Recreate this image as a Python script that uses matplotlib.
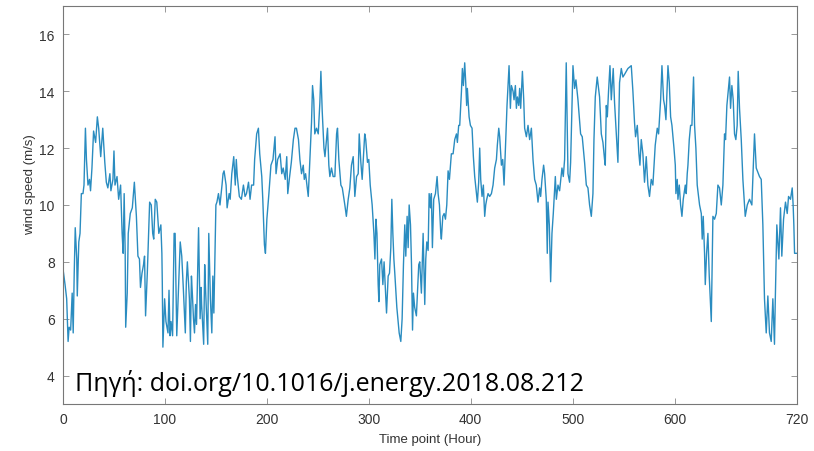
import matplotlib
matplotlib.use("Agg")
import matplotlib.pyplot as plt

hours = [0, 2, 3.6, 5, 6, 7.5, 9, 10, 11, 12, 13.5, 14, 15.5, 16.7, 18, 19.6, 20.6, 22, 23, 24.5,
         26, 27, 28.4, 30, 32, 33.7, 35, 37, 39, 41, 42.5, 44, 46, 47, 49, 50, 51, 53, 54.6, 56.5,
         58, 59, 60, 61, 61.5, 63, 64, 66, 68, 70, 72, 73.5, 75, 76, 77.5, 79, 80, 81, 82.7, 84,
         85, 86.6, 88, 89, 90.5, 92, 94, 96, 97, 97.4, 98, 99.7, 101, 103, 104, 105, 106, 107.5, 109, 110,
         111.6, 115, 116.5, 118, 120, 121, 122, 124, 125, 126, 127, 128, 129, 130, 131, 133, 134.5, 135.5, 136, 138,
         139, 140, 142, 143, 144.6, 146, 147, 148, 150, 151, 152.5, 154, 156, 157, 158, 160, 161, 163, 164, 165.6,
         167.5, 169, 170, 171, 173, 175, 177, 178.6, 180, 182, 183.5, 185, 187, 188, 190, 191.7, 193, 195, 196, 197.6,
         198.6, 200, 202, 204, 206, 208, 209, 210.6, 213, 214.6, 216, 218, 219.5, 220.5, 222, 224, 226, 227.6, 229, 231,
         232.4, 234, 235.7, 236.7, 238, 239.3, 240.6, 242.2, 243.8, 244.8, 246, 247, 248.7, 250.4, 252, 253, 254.3, 256, 257, 258.5,
         259.5, 260.8, 261.8, 263.4, 265, 266.7, 268.4, 269.3, 270.6, 272.6, 274, 276.5, 278, 279.8, 281.4, 283, 284.7, 286.3, 288, 289.6,
         290.6, 292.2, 293.5, 294.8, 296, 297, 298.7, 300, 301.4, 303.3, 305, 306, 307, 308, 309.2, 309.9, 310.8, 312.5, 313.8, 315,
         316.4, 317.4, 319, 320.3, 321.6, 322.6, 323.6, 324.6, 325.5, 327.5, 329.8, 331.4, 332.7, 334, 335.3, 336.3, 337.6, 338.6, 339.6, 340.9,
         341.9, 342.9, 343.8, 345, 346.7, 349, 350, 351.6, 353.3, 354.9, 355.9, 356.9, 358.2, 359.2, 360.5, 361.4, 362.4, 363.7, 365.4, 367,
         368, 369.3, 370.6, 371.2, 372.6, 373.9, 375.2, 376.5, 377.8, 379.1, 381, 382.7, 384.3, 386, 386.9, 388.2, 389.2, 390.9, 391.8, 392.8,
         394.1, 395.1, 396, 396.7, 398.4, 399.7, 401.3, 402.6, 403.9, 405.6, 406.5, 407.8, 408.8, 409.8, 411.1, 412.4, 413.7, 414.7, 415.7, 417,
         418.6, 420.3, 421.9, 423.5, 425.2, 426.1, 427.5, 428.4, 430.1, 431.4, 432.7, 434, 435.6, 437.6, 438.9, 439.9, 441.5, 442.5, 443.8, 444.8,
         445.8, 447.1, 448, 449, 450.7, 452, 452.9, 454.6, 456.2, 457.8, 459.5, 461.1, 462.7, 464.3, 466, 467.6, 468.6, 469.9, 471.5, 472.5,
         474.1, 475.1, 475.8, 477.1, 478.4, 479.7, 481, 483, 484, 485.6, 487.2, 489.5, 490.8, 492.1, 493.7, 495.4, 497, 498, 500.3, 501.9,
         503.2, 505.2, 507.8, 509.4, 511.7, 513.4, 515, 516.6, 518.3, 519.9, 520.9, 522.2, 524.1, 526.4, 528.1, 529.7, 531.3, 532, 533, 534,
         535.2, 536.6, 537.9, 539.8, 541.1, 544.4, 546, 547.7, 549.3, 551, 554.2, 557.5, 559.1, 560.7, 561.7, 563.4, 565, 566, 567.3, 568.9,
         570.5, 572.2, 573.8, 575.4, 577.1, 578.7, 581, 583, 584.3, 586.3, 587.6, 589.2, 590.2, 591.5, 593.5, 594.8, 596.1, 597.4, 599.4, 600.7,
         601.3, 602.6, 603.3, 604.6, 605.9, 607.2, 608.5, 610.5, 611.4, 612.4, 613.1, 614.4, 615.7, 617, 618.6, 619.6, 620.9, 622.2, 624.5, 626.2,
         627.1, 628.1, 629.4, 630.1, 631.4, 632.7, 634, 636, 637.6, 639.2, 640.9, 642.5, 644.1, 645.8, 647.4, 649, 650, 651.3, 653.9, 654.9,
         656.2, 657.5, 658.8, 660.1, 661.4, 662.4, 663.7, 665.4, 667, 668.6, 669.3, 671.3, 673.5, 675.8, 678.4, 680.1, 683.3, 685, 686.6, 688.2,
         689.9, 691.5, 693.1, 694.8, 696.4, 698, 698.7, 700.3, 702.3, 703.9, 705.2, 706.9, 708.8, 710.5, 711.8, 713.7, 715.4, 716.3, 717, 717.7,
         720]

wind_speed = [7.75, 7.2, 6.7, 5.2, 5.7, 5.6, 6.9, 5.5, 7.6, 9.2, 8.1, 6.8, 8.7, 9.0, 10.4, 10.4, 10.7, 12.7, 11.6, 10.7,
              10.9, 10.5, 11.3, 12.6, 12.2, 13.1, 12.7, 11.7, 12.7, 11.5, 10.8, 10.6, 11.1, 10.5, 10.9, 11.9, 10.7, 11.0, 10.2, 10.7,
              9.0, 8.3, 10.4, 8.3, 5.7, 6.9, 9.0, 9.7, 9.9, 10.8, 9.6, 8.2, 8.1, 7.1, 7.6, 7.9, 8.2, 6.1, 7.6, 9.0,
              10.1, 10.0, 9.0, 8.8, 10.2, 10.1, 9.0, 9.3, 8.3, 7.3, 5.0, 6.7, 5.9, 5.5, 7.0, 5.4, 5.9, 5.4, 9.0, 9.0,
              5.4, 8.7, 8.2, 7.1, 5.5, 7.3, 8.0, 6.7, 5.2, 7.5, 6.8, 6.0, 5.5, 6.5, 5.8, 9.2, 6.0, 7.1, 6.5, 5.1,
              7.9, 6.9, 5.1, 9.0, 6.7, 5.5, 7.5, 6.2, 10.0, 10.1, 10.4, 10.0, 10.7, 11.1, 11.2, 10.7, 9.9, 10.4, 10.2, 11.1,
              11.7, 10.7, 11.6, 11.0, 10.3, 10.2, 10.7, 10.3, 10.4, 10.8, 10.2, 10.7, 10.7, 11.6, 12.5, 12.7, 11.8, 11.0, 10.2, 8.6,
              8.3, 9.5, 10.4, 11.4, 11.6, 12.4, 11.1, 11.6, 11.8, 11.1, 11.3, 10.9, 11.7, 10.4, 10.9, 11.5, 12.3, 12.7, 12.7, 12.3,
              11.6, 11.1, 11.4, 10.9, 11.1, 10.7, 10.3, 11.6, 12.9, 14.2, 13.7, 12.5, 12.7, 12.5, 13.6, 14.7, 13.3, 12.0, 11.7, 12.3,
              12.7, 11.4, 11.0, 11.3, 11.0, 11.0, 12.5, 12.7, 11.6, 10.7, 10.6, 10.0, 9.6, 10.2, 10.6, 11.4, 11.7, 10.3, 11.0, 11.1,
              12.5, 11.5, 10.9, 11.7, 12.5, 12.3, 11.5, 11.6, 10.7, 10.0, 9.0, 8.1, 9.5, 9.0, 7.2, 6.6, 7.9, 8.1, 7.2, 8.0,
              6.9, 6.2, 7.5, 7.6, 8.5, 10.2, 9.0, 8.1, 7.6, 6.4, 5.5, 5.2, 6.0, 7.9, 9.3, 8.2, 9.6, 8.5, 10.0, 9.3,
              7.9, 5.6, 6.9, 6.4, 6.1, 7.9, 8.0, 6.9, 9.0, 6.5, 8.1, 8.7, 8.4, 10.4, 9.9, 10.4, 8.5, 10.2, 10.4, 11.0,
              10.4, 10.0, 9.0, 8.8, 9.6, 9.7, 9.5, 10.0, 11.2, 10.9, 11.8, 11.8, 12.3, 12.5, 12.2, 12.8, 12.8, 14.0, 14.8, 14.2,
              15.0, 14.3, 13.5, 14.1, 13.1, 12.8, 12.7, 11.7, 11.0, 10.4, 10.1, 10.8, 12.0, 10.9, 10.3, 10.7, 9.6, 10.0, 10.2, 10.4,
              10.3, 10.4, 10.7, 11.3, 11.6, 12.1, 12.7, 12.4, 11.4, 11.6, 10.7, 12.0, 13.5, 14.9, 13.4, 14.2, 14.0, 13.7, 14.2, 13.4,
              13.8, 13.5, 14.1, 13.4, 14.7, 13.7, 12.7, 12.4, 12.8, 12.3, 12.7, 11.6, 10.9, 10.7, 10.1, 10.6, 10.3, 10.9, 11.4, 11.1,
              10.2, 8.3, 10.1, 9.3, 7.3, 9.0, 9.7, 11.0, 10.2, 10.7, 10.5, 11.3, 11.0, 11.6, 15.0, 11.1, 10.8, 11.5, 14.9, 14.1,
              14.4, 13.7, 12.5, 12.4, 11.5, 10.7, 10.6, 10.0, 9.6, 10.4, 12.3, 13.8, 14.5, 13.8, 12.5, 12.2, 11.6, 11.4, 13.5, 13.1,
              14.0, 14.9, 13.7, 14.8, 13.6, 11.5, 14.3, 14.8, 14.5, 14.6, 14.8, 14.9, 14.0, 12.9, 12.4, 12.8, 11.8, 11.4, 12.3, 11.8,
              10.8, 11.7, 10.7, 10.3, 10.9, 10.7, 12.1, 12.7, 12.5, 13.7, 14.9, 13.7, 13.5, 13.0, 14.9, 14.3, 13.1, 12.8, 12.0, 11.4,
              10.4, 10.9, 10.2, 10.7, 10.0, 9.6, 10.2, 10.7, 10.4, 11.1, 11.4, 12.3, 12.8, 12.8, 14.5, 12.8, 12.0, 10.7, 10.0, 9.7,
              8.8, 9.6, 8.3, 7.2, 8.3, 9.0, 7.5, 5.9, 9.6, 9.5, 9.7, 10.7, 10.6, 10.0, 10.7, 12.5, 12.3, 13.5, 14.5, 13.4,
              14.2, 13.7, 12.5, 12.3, 12.8, 14.7, 13.4, 12.3, 10.9, 10.0, 9.6, 10.0, 10.2, 10.0, 12.5, 11.3, 11.0, 10.9, 9.3, 6.7,
              5.5, 6.8, 5.5, 5.2, 6.7, 5.1, 6.5, 9.3, 8.1, 9.9, 8.2, 9.5, 10.1, 9.7, 10.3, 10.2, 10.6, 10.0, 9.3, 8.3,
              8.3]

y_ticks = [4, 6, 8, 10, 12, 14, 16]
x_ticks = [0, 100, 200, 300, 400, 500, 600, 720]
x_label = "Time point (Hour)"
y_label = "wind speed (m/s)"
source_text = "Πηγή: doi.org/10.1016/j.energy.2018.08.212"

plt.rcParams['font.family'] = ['Liberation Sans Narrow', 'Liberation Sans', 'DejaVu Sans']

fig = plt.figure(figsize=(8.14, 4.52), dpi=100)
ax = fig.add_axes([0.0774, 0.104, 0.9016, 0.8806])
ax.plot(hours, wind_speed, color='#2a8cc0', linewidth=1.0)
ax.set_xlim(0, 720)
ax.set_ylim(3, 17)
ax.set_xticks(x_ticks)
ax.set_yticks(y_ticks)
ax.tick_params(direction='in', top=True, right=True, length=4, width=0.6,
               colors='#888888', labelcolor='#333333', labelsize=10, pad=6)
for s in ax.spines.values():
    s.set_color('#777777')
    s.set_linewidth(0.8)
ax.set_xlabel(x_label, fontsize=9.5, color='#333333', labelpad=5)
ax.set_ylabel(y_label, fontsize=9.5, color='#333333', labelpad=9)
ax.yaxis.set_label_coords(-0.037, 0.553)
ax.text(0.016, 0.035, source_text, transform=ax.transAxes,
        fontsize=18, family=['Open Sans', 'DejaVu Sans'], color='black',
        ha='left', va='baseline')

fig.savefig("out.png", dpi=100)
